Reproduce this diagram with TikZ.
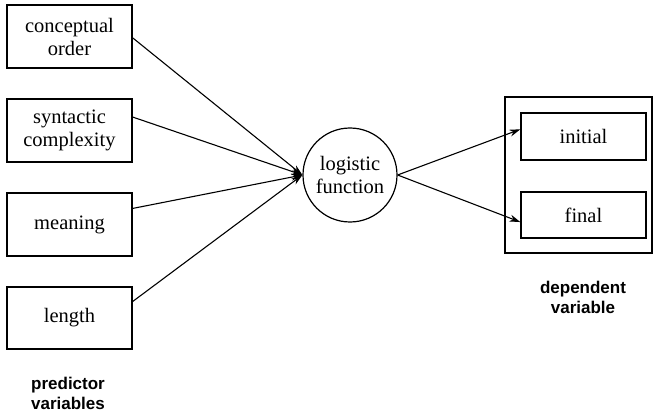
\documentclass[tikz,border=0pt]{standalone}
\usepackage{fontspec}
\setmainfont{Liberation Serif}
\newfontfamily\labelfont{Liberation Sans}
\usetikzlibrary{arrows.meta,calc}
\begin{document}
\begin{tikzpicture}[x=1pt,y=-1pt,
  box/.style={draw,line width=1.2pt,minimum width=125pt,align=center,inner sep=0pt,font=\fontsize{20.5}{23}\selectfont},
  circ/.style={draw,line width=1.2pt,circle,minimum size=94pt,align=center,inner sep=0pt,font=\fontsize{20.5}{23}\selectfont},
  lbl/.style={align=center,font=\labelfont\bfseries\fontsize{17}{20}\selectfont},
  arr/.style={line width=1.1pt,-{Stealth[length=11pt,width=7pt]}}]
\useasboundingbox (0,0) rectangle (653,414);
\node[box,minimum height=63pt] (co) at (69.5,36.5) {conceptual\\order};
\node[box,minimum height=63pt] (sc) at (69.5,130.5) {syntactic\\complexity};
\node[box,minimum height=63pt] (me) at (69.5,224.5) {meaning};
\node[box,minimum height=62pt] (le) at (69.5,318) {length};
\node[circ] (lf) at (350,175) {logistic\\function};
\node[draw,line width=1.2pt,minimum width=147pt,minimum height=156pt,inner sep=0pt] (dv) at (578.5,175) {};
\node[box,minimum height=47pt] (in) at (583.5,136.5) {initial};
\node[box,minimum height=46pt] (fi) at (583.5,215) {final};
\node[lbl] (pv) at (68,393) {predictor\\variables};
\node[lbl] (dl) at (583,297) {dependent\\variable};
\coordinate (t) at (lf.west);
\draw[arr] ($(co.north east)!0.52!(co.south east)$) -- (t);
\draw[arr] ($(sc.north east)!0.29!(sc.south east)$) -- (t);
\draw[arr] ($(me.north east)!0.25!(me.south east)$) -- (t);
\draw[arr] ($(le.north east)!0.24!(le.south east)$) -- (t);
\draw[arr] (lf.east) -- ($(in.north west)!0.35!(in.south west)$);
\draw[arr] (lf.east) -- ($(fi.north west)!0.65!(fi.south west)$);
\end{tikzpicture}
\end{document}
